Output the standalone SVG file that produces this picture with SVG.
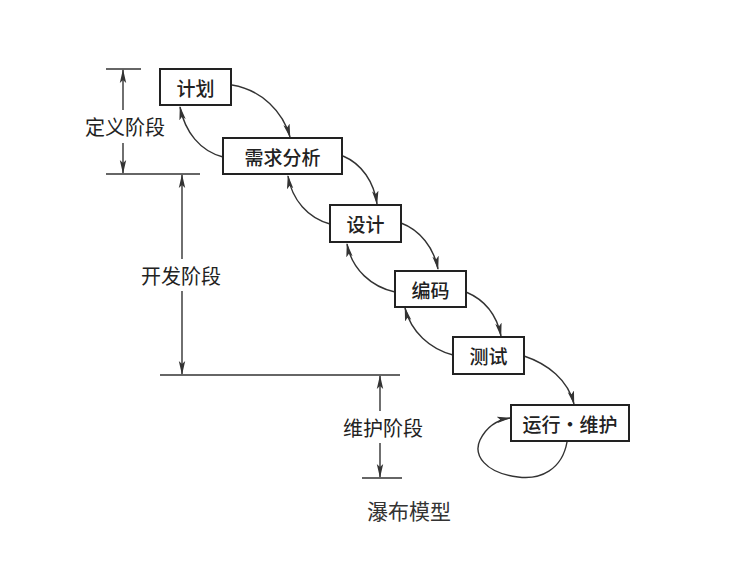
<svg xmlns="http://www.w3.org/2000/svg" width="735" height="569" viewBox="0 0 735 569">
<defs>
<marker id="ah" markerWidth="14" markerHeight="8" refX="13" refY="4" orient="auto" markerUnits="userSpaceOnUse">
<path d="M0,0.8 L14,4 L0,7.2 L3,4 Z" fill="#333"/>
</marker>
<style>
.box{fill:#fff;stroke:#222;stroke-width:2}
.t{font-family:"Noto Sans CJK SC","Noto Sans",sans-serif;font-size:19px;font-weight:500;fill:#222;text-anchor:middle;dominant-baseline:central}
.lbl{font-family:"Noto Sans CJK SC","Noto Sans",sans-serif;font-size:20px;fill:#222;text-anchor:middle;dominant-baseline:central}
.cap{font-family:"Noto Sans CJK SC",serif;font-size:21px;fill:#333;text-anchor:middle;dominant-baseline:central}
.ln{fill:none;stroke:#333;stroke-width:1.4}
.arr{fill:none;stroke:#333;stroke-width:1.4;marker-end:url(#ah)}
</style>
</defs>
<rect width="735" height="569" fill="#fff"/>
<g id="connectors">
<path class="arr" d="M232,85 C262,90 283,112 290,137"/>
<path class="arr" d="M223,157 C200,151 185,132 180,107"/>
<path class="arr" d="M343,156 C362,164 374,182 377,204"/>
<path class="arr" d="M330,224 C308,218 292,200 288,176"/>
<path class="arr" d="M401,223 C420,230 434,248 438,269"/>
<path class="arr" d="M395,292 C372,287 352,270 347,244"/>
<path class="arr" d="M466,292 C485,300 497,316 501,336"/>
<path class="arr" d="M453,355 C430,349 411,332 405,308"/>
<path class="arr" d="M524,356 C548,364 568,380 574,404"/>
<path class="arr" d="M567,442 C562,470 540,480 518,477 C485,473 473,455 480,440 C486,428 496,420 510,418"/>
</g>
<g id="dimensions">
<line class="ln" x1="106" y1="69" x2="141" y2="69"/>
<line class="ln" x1="106" y1="174" x2="200" y2="174"/>
<line class="ln" x1="160" y1="375" x2="400" y2="375"/>
<line class="ln" x1="362" y1="478" x2="402" y2="478"/>
<line class="arr" x1="123" y1="110" x2="123" y2="70"/>
<line class="arr" x1="123" y1="143" x2="123" y2="173"/>
<line class="arr" x1="182" y1="259" x2="182" y2="175"/>
<line class="arr" x1="182" y1="291" x2="182" y2="374"/>
<line class="arr" x1="380" y1="411" x2="380" y2="376"/>
<line class="arr" x1="380" y1="443" x2="380" y2="477"/>
<text class="lbl" x="125" y="126">定义阶段</text>
<text class="lbl" x="181" y="275">开发阶段</text>
<text class="lbl" x="383" y="427">维护阶段</text>
<text class="cap" x="409" y="510">瀑布模型</text>
</g>
<g id="n1"><rect class="box" x="160" y="69" width="71" height="36"/><text class="t" x="195.5" y="87">计划</text></g>
<g id="n2"><rect class="box" x="223" y="138" width="119" height="36"/><text class="t" x="282.5" y="156">需求分析</text></g>
<g id="n3"><rect class="box" x="330" y="205" width="71" height="37"/><text class="t" x="365.5" y="223.5">设计</text></g>
<g id="n4"><rect class="box" x="395" y="271" width="71" height="36"/><text class="t" x="430.5" y="289">编码</text></g>
<g id="n5"><rect class="box" x="453" y="337" width="71" height="37"/><text class="t" x="488.5" y="355.5">测试</text></g>
<g id="n6"><rect class="box" x="511" y="405" width="118" height="36"/><text class="t" x="570" y="423">运行·维护</text></g>
</svg>
